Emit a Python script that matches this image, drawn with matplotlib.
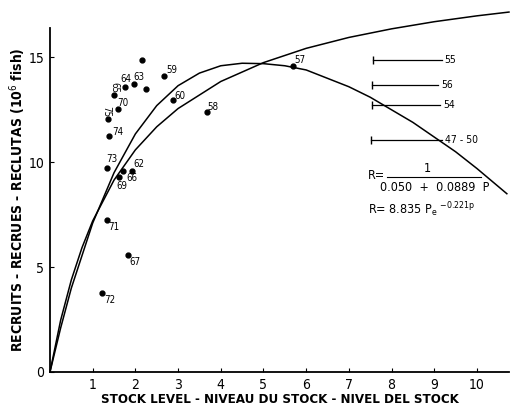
import matplotlib
import matplotlib.pyplot as plt
from matplotlib import font_manager

matplotlib.use("Agg")

# look for a condensed face; the scan uses a narrow lettering
_narrow = [f.name for f in font_manager.fontManager.ttflist
           if "Narrow" in f.name or "Condensed" in f.name
           or str(f.stretch) in ("condensed", "semi-condensed", "500", "75", "87.5")]
FONT = _narrow[0] if _narrow else "Liberation Sans"
plt.rcParams["font.family"] = [FONT, "DejaVu Sans"]
plt.rcParams["font.stretch"] = "condensed"
plt.rcParams["mathtext.fontset"] = "custom"
plt.rcParams["mathtext.rm"] = FONT
plt.rcParams["mathtext.it"] = FONT

# --------------------------------------------------
# Data
# --------------------------------------------------
years = ["72", "67", "71", "73", "69", "66", "62", "74", "75", "70",
         "65", "64", "63", "", "", "59", "60", "58", "57"]
stock = [1.23, 1.83, 1.34, 1.33, 1.62, 1.72, 1.91, 1.39, 1.37, 1.60,
         1.51, 1.76, 1.97, 2.24, 2.15, 2.68, 2.89, 3.67, 5.70]
recruits = [3.76, 5.57, 7.27, 9.73, 9.30, 9.57, 9.57, 11.24, 12.05, 12.56,
            13.19, 13.59, 13.75, 13.48, 14.86, 14.11, 12.95, 12.40, 14.57]

# Beverton-Holt curve, traced
bh_stock = [0, 0.25, 0.5, 0.75, 1, 1.5, 2, 2.5, 3, 4, 5, 6, 7, 8, 9, 10, 10.75]
bh_recruits = [0, 2.47, 4.39, 5.93, 7.20, 9.15, 10.59, 11.69, 12.56, 13.85,
               14.75, 15.43, 15.95, 16.36, 16.70, 16.98, 17.16]

# Ricker curve, traced
rk_stock = [0, 0.25, 0.5, 1, 1.5, 2, 2.5, 3, 3.5, 4, 4.5, 5, 5.5, 6, 6.5,
            7, 7.5, 8, 8.5, 9, 9.5, 10, 10.7]
rk_recruits = [0, 2.1, 4.0, 7.1, 9.5, 11.35, 12.7, 13.65, 14.25, 14.6, 14.72,
               14.7, 14.6, 14.4, 14.0, 13.6, 13.1, 12.5, 11.9, 11.2, 10.5, 9.7, 8.5]

# Ranges on the right
range_labels = ["55", "56", "54", "47 - 50"]
range_lo = [7.57, 7.55, 7.54, 7.53]
range_hi = [9.17, 9.09, 9.13, 9.17]
range_level = [14.87, 13.67, 12.71, 11.05]

# label offsets (pixels) and rotation per point
label_offsets = {
    "72": (7, -7), "67": (7, -7), "71": (7, -7), "73": (5, 9), "69": (3, -9),
    "66": (8, -7), "62": (7, 7), "74": (8, 4), "75": (-2, 8), "70": (5, 6),
    "65": (0, 8), "64": (1, 8), "63": (5, 7), "59": (7, 6), "60": (7, 4),
    "58": (6, 5), "57": (7, 6),
}
rotated = {"75", "65"}

# --------------------------------------------------
# Figure
# --------------------------------------------------
fig = plt.figure(figsize=(5.19, 4.07), dpi=100)
ax = fig.add_axes([0.0963, 0.086, 0.8844, 0.8452])

ax.plot(bh_stock, bh_recruits, color="black", lw=1.1, clip_on=False)
ax.plot(rk_stock, rk_recruits, color="black", lw=1.1, clip_on=False)

ax.plot(stock, recruits, "o", color="black", ms=3.5, clip_on=False)
for lab, x, y in zip(years, stock, recruits):
    if not lab:
        continue
    dx, dy = label_offsets[lab]
    ax.annotate(lab, (x, y), xytext=(dx, dy), textcoords="offset pixels",
                ha="center", va="center", fontsize=7,
                rotation=270 if lab in rotated else 0)

for lab, x0, x1, y in zip(range_labels, range_lo, range_hi, range_level):
    ax.plot([x0, x1], [y, y], color="black", lw=0.9)
    ax.plot([x0], [y], marker="|", color="black", ms=6, mew=1)
    ax.annotate(lab, (x1, y), xytext=(3, 0), textcoords="offset pixels",
                ha="left", va="center", fontsize=7.5)

# formulas
ax.text(7.45, 9.35, "R=", fontsize=9, va="center")
ax.text(8.85, 9.72, "1", fontsize=9, ha="center", va="center")
ax.plot([7.9, 10.1], [9.30, 9.30], color="black", lw=0.8)
ax.text(9.0, 8.80, "0.050  +  0.0889  P", fontsize=9, ha="center", va="center")
ax.text(7.45, 7.75, r"R= 8.835 P$_{e}$ $^{-0.221p}$", fontsize=9, va="center")

ax.set_xlim(0, 10.75)
ax.set_ylim(0, 16.4)
ax.set_xticks(range(1, 11))
ax.set_yticks([0, 5, 10, 15])
ax.tick_params(direction="in", length=3, width=0.8, labelsize=10, pad=4)
for s in ["top", "right"]:
    ax.spines[s].set_visible(False)
for s in ["left", "bottom"]:
    ax.spines[s].set_linewidth(1.3)

ax.set_xlabel("STOCK LEVEL - NIVEAU DU STOCK - NIVEL DEL STOCK",
              fontsize=9.5, fontweight="bold", labelpad=1)
ax.set_ylabel(r"RECRUITS - RECRUES - RECLUTAS (10$^6$ fish)",
              fontsize=10, fontweight="bold")
ax.yaxis.set_label_coords(-0.048, 0.5)

fig.savefig("out.png", dpi=100)
plt.close(fig)
